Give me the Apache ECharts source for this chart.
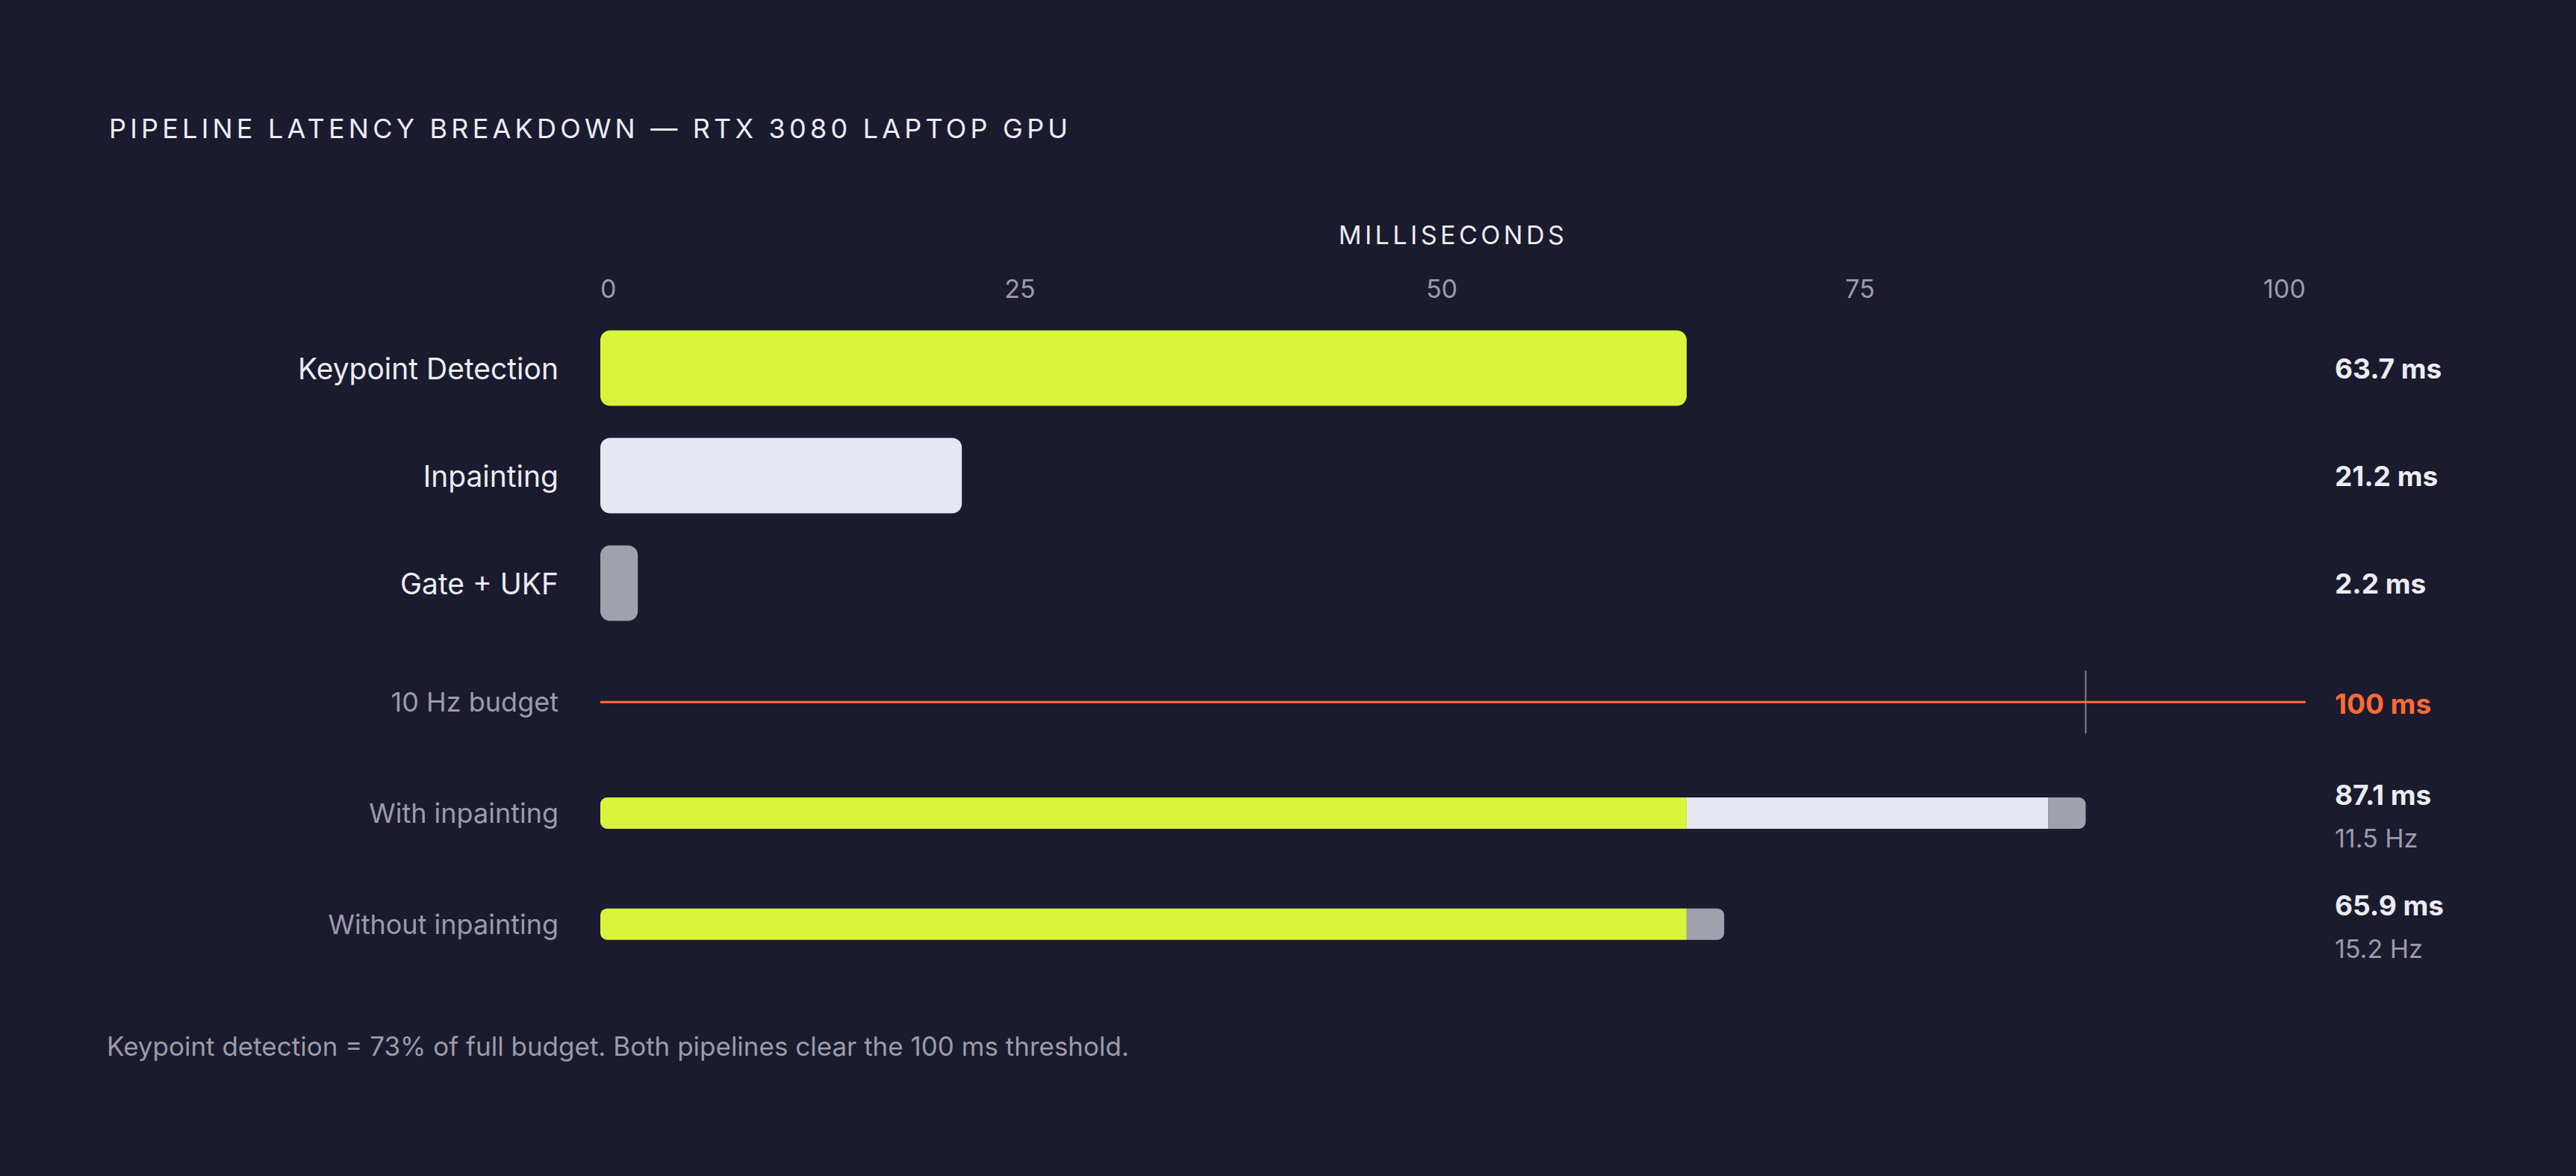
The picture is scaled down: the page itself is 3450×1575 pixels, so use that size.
<!DOCTYPE html>
<html>
<head>
<meta charset="utf-8">
<script src="https://cdn.jsdelivr.net/npm/echarts@6/dist/echarts.min.js"></script>
<style>
  html, body { margin: 0; padding: 0; background: #1a1b2e; }
  #chart { width: 3450px; height: 1575px; }
</style>
</head>
<body>
<div id="chart"></div>
<script>
// ---- data ----
const titleText = 'PIPELINE LATENCY BREAKDOWN — RTX 3080 LAPTOP GPU';
const axisTitle = 'MILLISECONDS';
const footnote = 'Keypoint detection = 73% of full budget. Both pipelines clear the 100 ms threshold.';

const stageCategories = ['Keypoint Detection', 'Inpainting', 'Gate + UKF'];
const stageValues = [63.7, 21.2, 2.2];

const pipelineCategories = ['10 Hz budget', 'With inpainting', 'Without inpainting'];
const keypointStack = ['-', 63.7, 63.7];
const inpaintStack = ['-', 21.2, 0];
const gateStack = ['-', 2.2, 2.2];
const budgetMs = 100;

const xMin = 0, xMax = 100, xInterval = 25;

// ---- style ----
const BG = '#1a1b2e';
const GREEN = '#d8f53c';
const WHITE = '#e7e7f1';
const GREY = '#a1a1ad';
const ORANGE = '#ff6b35';
const TEXT = '#ececf3';
const MUTED = '#9b9bab';
const FONT = 'Inter, "Noto Sans", sans-serif';

const stageColors = [GREEN, WHITE, GREY];

const totals = pipelineCategories.map((c, i) => {
  if (i === 0) return budgetMs;
  return Math.round((keypointStack[i] + inpaintStack[i] + gateStack[i]) * 10) / 10;
});
const withTotal = totals[1];

// tick labels are spread edge-to-edge (space-between) in the reference
const tickRich = {
  t0: { color: MUTED, fontSize: 34, fontFamily: FONT },
  t25: { color: MUTED, fontSize: 34, fontFamily: FONT, padding: [0, 18, 0, 0] },
  t50: { color: MUTED, fontSize: 34, fontFamily: FONT, padding: [0, 30, 0, 0] },
  t75: { color: MUTED, fontSize: 34, fontFamily: FONT, padding: [0, 52, 0, 0] },
  t100: { color: MUTED, fontSize: 34, fontFamily: FONT }
};

const chart = echarts.init(document.getElementById('chart'), null, { renderer: 'svg' });

const gridLeft = 804, gridRight = 362;

const option = {
  backgroundColor: BG,
  animation: false,
  textStyle: { fontFamily: FONT },
  title: {
    text: titleText,
    left: 141,
    top: 148,
    textStyle: { color: TEXT, fontSize: 36, fontWeight: 'normal', fontFamily: FONT, lineHeight: 38 }
  },
  graphic: [{
    type: 'text',
    left: 143,
    top: 1383,
    style: { text: footnote, fill: MUTED, fontSize: 35, fontFamily: FONT }
  }],
  grid: [
    { left: gridLeft, right: gridRight, top: 421, height: 432, containLabel: false },
    { left: gridLeft, right: gridRight, top: 866, height: 446, containLabel: false }
  ],
  xAxis: [
    {
      gridIndex: 0, type: 'value', position: 'top',
      min: xMin, max: xMax, interval: xInterval,
      name: axisTitle, nameLocation: 'middle', nameGap: 90,
      nameTextStyle: { color: TEXT, fontSize: 34, fontFamily: FONT },
      axisLine: { show: false }, axisTick: { show: false }, splitLine: { show: false },
      axisLabel: {
        color: MUTED, fontSize: 34, margin: 18, fontFamily: FONT,
        alignMinLabel: 'left', alignMaxLabel: 'right',
        formatter: v => '{t' + v + '|' + v + '}',
        rich: tickRich
      }
    },
    {
      gridIndex: 1, type: 'value', min: xMin, max: xMax, interval: xInterval,
      show: false
    }
  ],
  yAxis: [
    {
      gridIndex: 0, type: 'category', data: stageCategories, inverse: true,
      axisLine: { show: false }, axisTick: { show: false },
      axisLabel: { color: TEXT, fontSize: 39, margin: 56, fontFamily: FONT }
    },
    {
      gridIndex: 0, type: 'category', data: stageCategories, inverse: true, position: 'right',
      axisLine: { show: false }, axisTick: { show: false },
      axisLabel: {
        margin: 39, align: 'left', color: TEXT, fontSize: 37, fontWeight: 'bold', fontFamily: FONT,
        formatter: (v, i) => stageValues[i].toFixed(1) + ' ms'
      }
    },
    {
      gridIndex: 1, type: 'category', data: pipelineCategories, inverse: true,
      axisLine: { show: false }, axisTick: { show: false },
      axisLabel: { color: MUTED, fontSize: 36, margin: 56, fontFamily: FONT }
    },
    {
      gridIndex: 1, type: 'category', data: pipelineCategories, inverse: true, position: 'right',
      axisLine: { show: false }, axisTick: { show: false },
      axisLabel: {
        margin: 39, align: 'left', fontFamily: FONT,
        formatter: (v, i) => {
          if (i === 0) return '{b|' + totals[0] + ' ms}';
          const hz = (1000 / totals[i]).toFixed(1);
          return '{v|' + totals[i].toFixed(1) + ' ms}\n{h|' + hz + ' Hz}';
        },
        rich: {
          b: { color: ORANGE, fontSize: 37, fontWeight: 'bold', fontFamily: FONT, padding: [4, 0, 0, 0] },
          v: { color: TEXT, fontSize: 37, fontWeight: 'bold', fontFamily: FONT, lineHeight: 56, padding: [6, 0, 0, 0] },
          h: { color: MUTED, fontSize: 34, fontFamily: FONT, lineHeight: 56, padding: [10, 0, 0, 0] }
        }
      }
    }
  ],
  series: [
    {
      type: 'bar', xAxisIndex: 0, yAxisIndex: 0, barWidth: 101,
      data: stageValues.map((v, i) => ({ value: v, itemStyle: { color: stageColors[i] } })),
      itemStyle: { borderRadius: 13 }
    },
    {
      type: 'bar', xAxisIndex: 1, yAxisIndex: 2, stack: 'pipe', barWidth: 42,
      data: keypointStack, itemStyle: { color: GREEN, borderRadius: [9, 0, 0, 9] }
    },
    {
      type: 'bar', xAxisIndex: 1, yAxisIndex: 2, stack: 'pipe', barWidth: 42,
      data: inpaintStack, itemStyle: { color: WHITE, borderRadius: 0 }
    },
    {
      type: 'bar', xAxisIndex: 1, yAxisIndex: 2, stack: 'pipe', barWidth: 42,
      data: gateStack, itemStyle: { color: GREY, borderRadius: [0, 9, 9, 0] }
    },
    {
      type: 'line', xAxisIndex: 1, yAxisIndex: 2, symbol: 'none',
      data: [[0, pipelineCategories[0]], [budgetMs, pipelineCategories[0]]],
      lineStyle: { color: ORANGE, width: 3 }, z: 3
    },
    {
      type: 'scatter', xAxisIndex: 1, yAxisIndex: 2, symbol: 'rect', symbolSize: [2, 84],
      data: [[withTotal, pipelineCategories[0]]],
      itemStyle: { color: '#9a9aa8' }, z: 4
    }
  ]
};

chart.setOption(option);

function spaceText() {
  const texts = chart.getDom().querySelectorAll('text');
  texts.forEach(t => {
    const s = t.textContent;
    if (s === titleText) t.setAttribute('letter-spacing', '5.2px');
    else if (s === axisTitle) t.setAttribute('letter-spacing', '4.5px');
  });
}
chart.on('finished', spaceText);
spaceText();
</script>
</body>
</html>
